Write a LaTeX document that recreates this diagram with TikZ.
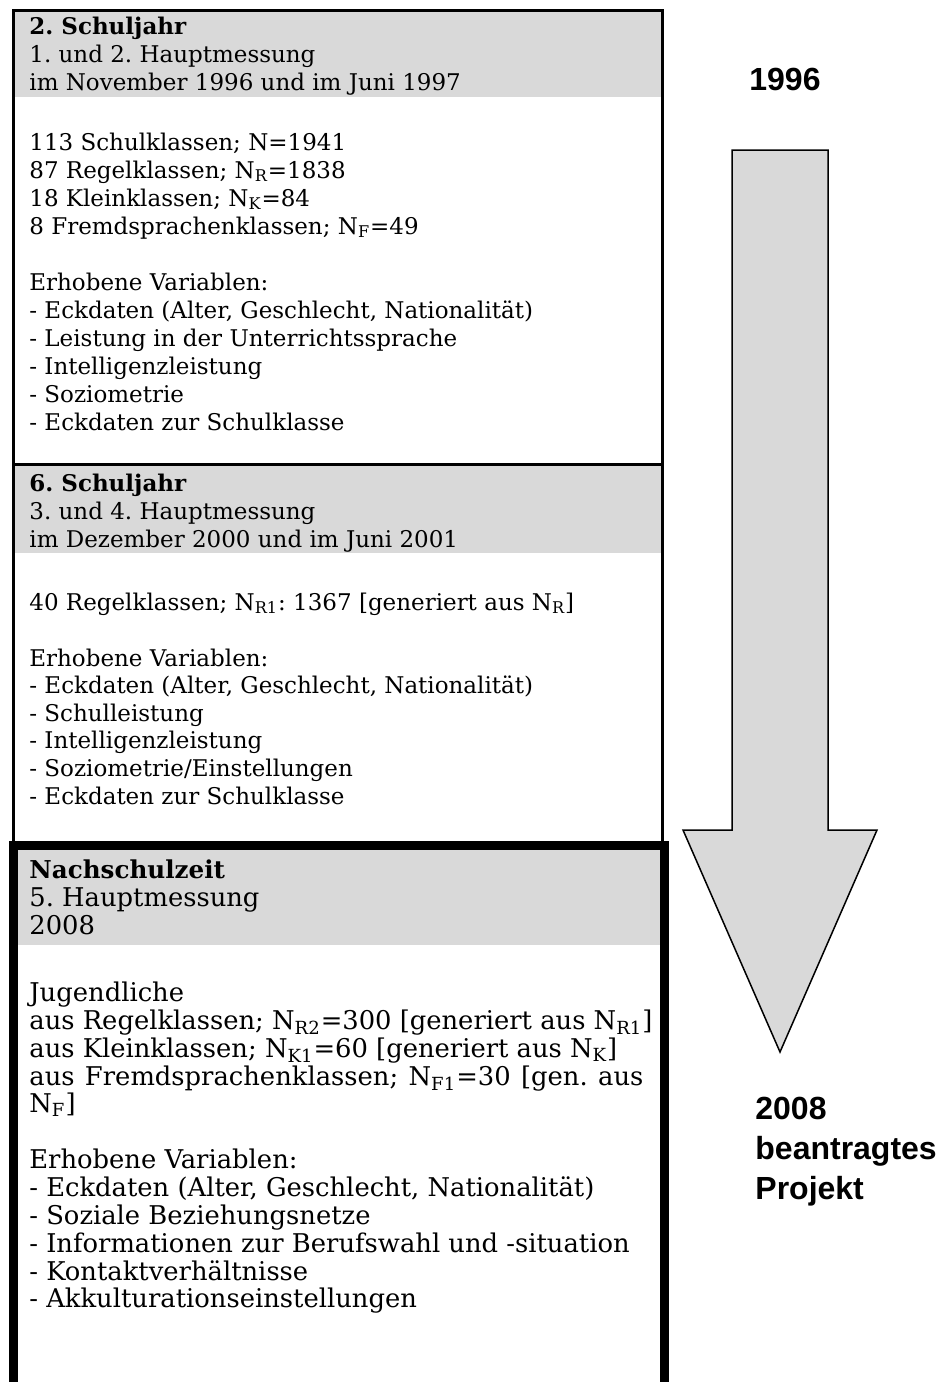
\documentclass[tikz,border=0pt]{standalone}
\usepackage{fontspec}
\setmainfont{DejaVu Serif}
\newfontfamily\arialfont{Liberation Sans}
\definecolor{hdr}{RGB}{217,217,217}
\newcommand{\sub}[1]{\textsubscript{#1}}
\frenchspacing
\tikzset{
  txt/.style={anchor=base west, inner sep=0pt, font=\fontsize{11.5}{14}\selectfont},
  hd/.style={txt, font=\fontsize{11.5}{14}\selectfont\bfseries},
  txtc/.style={anchor=base west, inner sep=0pt, font=\fontsize{12.9}{14}\selectfont},
  hdc/.style={txtc, font=\fontsize{12.3}{14}\selectfont\bfseries},
  thinbox/.style={draw=black, line width=1.5pt},
  thickbox/.style={draw=black, line width=4.5pt},
  lbl/.style={inner sep=0pt, font=\arialfont\bfseries\fontsize{16}{20}\selectfont},
  arrowshape/.style={fill=hdr, draw=black, line width=0.75pt, line join=miter}
}
\begin{document}
\begin{tikzpicture}[x=0.5pt, y=-0.5pt]
\clip (0,0) rectangle (945,1382);
\fill[white] (0,0) rectangle (945,1382);
% header fills
\fill[hdr] (13,10) rectangle (662,97);
\fill[hdr] (13,464) rectangle (662,553);
\fill[hdr] (13,845) rectangle (664,945);
% boxes
\draw[thinbox] (13,10) rectangle (662,464);
\draw[thinbox] (13,464) rectangle (662,845);
\draw[thickbox] (13,845) rectangle (664,1430);
% arrow
\draw[arrowshape] (732,150) -- (828,150) -- (828,830) -- (877,830) -- (780,1052) -- (683,830) -- (732,830) -- cycle;
% box 1
\node[hd]  (a1) at (29,34) {2. Schuljahr};
\node[txt] (a2) at (29,62) {1. und 2. Hauptmessung};
\node[txt] (a3) at (29,90) {im November 1996 und im Juni 1997};
\node[txt] (a4) at (29,150) {113 Schulklassen; N=1941};
\node[txt] (a5) at (29,178) {87 Regelklassen; N\sub{R}=1838};
\node[txt] (a6) at (29,206) {18 Kleinklassen; N\sub{K}=84};
\node[txt] (a7) at (29,234) {8 Fremdsprachenklassen; N\sub{F}=49};
\node[txt] (a8) at (29,290) {Erhobene Variablen:};
\node[txt] (a9) at (29,318) {- Eckdaten (Alter, Geschlecht, Nationalität)};
\node[txt] (a10) at (29,346) {- Leistung in der Unterrichtssprache};
\node[txt] (a11) at (29,374) {- Intelligenzleistung};
\node[txt] (a12) at (29,402) {- Soziometrie};
\node[txt] (a13) at (29,430) {- Eckdaten zur Schulklasse};
% box 2
\node[hd]  (b1) at (29,491) {6. Schuljahr};
\node[txt] (b2) at (29,519) {3. und 4. Hauptmessung};
\node[txt] (b3) at (29,547) {im Dezember 2000 und im Juni 2001};
\node[txt] (b4) at (29,610) {40 Regelklassen; N\sub{R1}: 1367 [generiert aus N\sub{R}]};
\node[txt] (b5) at (29,666) {Erhobene Variablen:};
\node[txt] (b6) at (29,693.6) {- Eckdaten (Alter, Geschlecht, Nationalität)};
\node[txt] (b7) at (29,721.2) {- Schulleistung};
\node[txt] (b8) at (29,748.8) {- Intelligenzleistung};
\node[txt] (b9) at (29,776.4) {- Soziometrie/Einstellungen};
\node[txt] (b10) at (29,804) {- Eckdaten zur Schulklasse};
% box 3
\node[hdc]  (c1) at (29,878) {Nachschulzeit};
\node[txtc] (c2) at (29,906) {5. Hauptmessung};
\node[txtc] (c3) at (29,934) {2008};
\node[txtc] (c4) at (29,1001) {Jugendliche};
\node[txtc] (c5) at (29,1029) {aus Regelklassen; N\sub{R2}=300 [generiert aus N\sub{R1}]};
\node[txtc] (c6) at (29,1057) {aus Kleinklassen; N\sub{K1}=60 [generiert aus N\sub{K}]};
\node[txtc] (c7) at (29,1085) {\makebox[307pt][s]{aus Fremdsprachenklassen; N\sub{F1}=30 [gen. aus}};
\node[txtc] (c8) at (29,1112) {N\sub{F}]};
\node[txtc] (c9) at (29,1168) {Erhobene Variablen:};
\node[txtc] (c10) at (29,1196) {- Eckdaten (Alter, Geschlecht, Nationalität)};
\node[txtc] (c11) at (29,1224) {- Soziale Beziehungsnetze};
\node[txtc] (c12) at (29,1252) {- Informationen zur Berufswahl und -situation};
\node[txtc] (c13) at (29,1280) {- Kontaktverhältnisse};
\node[txtc] (c14) at (29,1307) {- Akkulturationseinstellungen};
% side labels
\node[lbl, anchor=base] (y1) at (785,90) {1996};
\node[lbl, anchor=base west] (y2) at (755,1119) {2008};
\node[lbl, anchor=base west] (y3) at (755,1159) {beantragtes};
\node[lbl, anchor=base west] (y4) at (755,1199) {Projekt};
\end{tikzpicture}
\end{document}
